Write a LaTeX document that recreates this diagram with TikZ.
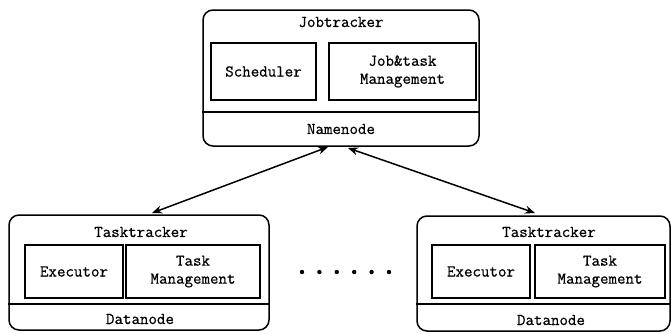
\documentclass[tikz,border=0pt]{standalone}
\usepackage{fontspec}
\setmonofont{Latin Modern Mono}[FakeBold=0.7]
\usetikzlibrary{arrows.meta}
\begin{document}
\begin{tikzpicture}[x=1pt, y=-1pt, >={Stealth[length=10pt,width=8pt]},
  every node/.style={font=\fontsize{16.5}{18}\selectfont\ttfamily, inner sep=0pt},
  outer/.style={draw, line width=1.5pt, rounded corners=10pt},
  inner/.style={draw, line width=1.5pt, align=center}]

  \useasboundingbox (0,0) rectangle (671,333);

  % Jobtracker
  \node[outer, minimum width=276pt, minimum height=136pt] (job) at (341,78) {};
  \node[inner, minimum width=105pt, minimum height=57pt] (sched) at (263.5,71.5) {Scheduler};
  \node[inner, minimum width=147pt, minimum height=57pt] (jtm) at (402.5,71.5) {Job\&task\\Management};
  \node (jobname) at (341,22) {Jobtracker};
  \node (namenode) at (341,129) {Namenode};
  \coordinate (jsep) at (0,112);
  \draw[line width=1.5pt] (job.west |- jsep) -- (job.east |- jsep);

  % left Tasktracker
  \node[outer, minimum width=260pt, minimum height=115pt] (tl) at (139,272.5) {};
  \node[inner, minimum width=98pt, minimum height=53pt] (exl) at (74,271.5) {Executor};
  \node[inner, minimum width=134pt, minimum height=53pt] (tml) at (193,271.5) {Task\\Management};
  \node (tlname) at (141,232) {Tasktracker};
  \node (dl) at (140,319) {Datanode};
  \coordinate (lsep) at (0,304);
  \draw[line width=1.5pt] (tl.west |- lsep) -- (tl.east |- lsep);

  % right Tasktracker
  \node[outer, minimum width=253pt, minimum height=115pt] (tr) at (543.5,273.5) {};
  \node[inner, minimum width=98pt, minimum height=53pt] (exr) at (481,271.5) {Executor};
  \node[inner, minimum width=130pt, minimum height=53pt] (tmr) at (600,271.5) {Task\\Management};
  \node (trname) at (549,232) {Tasktracker};
  \node (dr) at (551,320) {Datanode};
  \draw[line width=1.5pt] (tr.west |- lsep) -- (tr.east |- lsep);

  % dots
  \foreach \i in {0,...,5}
    \fill (302+\i*17.4,272) circle (2.2pt);

  % links
  \coordinate (jl) at (328,147);
  \coordinate (jr) at (348,148);
  \coordinate (tla) at (152,213);
  \coordinate (tra) at (535,213);
  \draw[<->, line width=1.5pt] (tla) -- (jl);
  \draw[<->, line width=1.5pt] (jr) -- (tra);
\end{tikzpicture}
\end{document}
